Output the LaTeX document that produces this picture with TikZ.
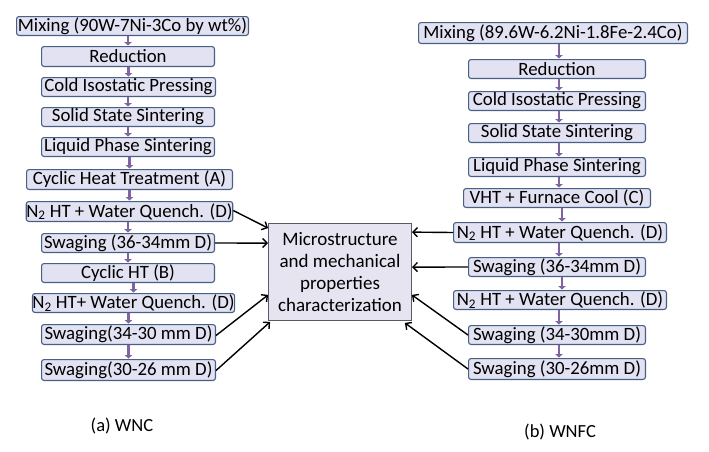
\documentclass[tikz,border=0pt]{standalone}
\usepackage{fontspec}
\setmainfont{Carlito}
\usetikzlibrary{arrows.meta,calc}
\definecolor{boxfill}{RGB}{226,226,242}
\definecolor{boxline}{RGB}{72,96,132}
\definecolor{cfill}{RGB}{230,228,240}
\definecolor{cline}{RGB}{90,90,100}
\definecolor{smallarr}{RGB}{128,100,162}
\tikzset{
  stepbox/.style={draw=boxline, fill=boxfill, line width=1.1pt, rounded corners=2.5pt,
    inner sep=0pt, font=\fontsize{18.8}{20}\selectfont, text=black, anchor=center},
  centerbox/.style={draw=cline, fill=cfill, line width=0.8pt, inner sep=0pt,
    align=center, font=\fontsize{19}{22}\selectfont},
  flowarr/.style={draw=smallarr, line width=2.8pt, -{Triangle[width=7.5pt,length=3.5pt]}},
  feedarr/.style={draw=black, line width=1.4pt, -{Straight Barb[length=4.5pt,width=9pt]}},
  caption/.style={font=\fontsize{18.5}{21}\selectfont}
}
% \bx{name}{x1}{x2}{y1}{y2}{text}
\newcommand{\bx}[6]{%
  \node[stepbox, minimum width={#3pt-#2pt-1.1pt}, minimum height={#5pt-#4pt-1.1pt}]
    (#1) at ({(#2+#3)/2},{(#4+#5)/2}) {#6};}
\begin{document}
\begin{tikzpicture}[x=1pt,y=-1pt]
\useasboundingbox (0,0) rectangle (709,451);
\fill[white] (0,0) rectangle (709,451);
% left column
\bx{L1}{16}{249}{16}{36}{Mixing (90W-7Ni-3Co by wt\%)}
\bx{L2}{41}{215}{46}{67}{Reduction}
\bx{L3}{41}{216}{77}{97}{Cold Isostatic Pressing}
\bx{L4}{41}{215}{107}{127}{Solid State Sintering}
\bx{L5}{41}{215}{137}{157}{Liquid Phase Sintering}
\bx{L6}{26}{233}{169}{190}{Cyclic Heat Treatment (A)}
\bx{L7}{26}{233}{201}{222}{N\textsubscript{2} HT + Water Quench. (D)}
\bx{L8}{41}{215}{233}{253}{Swaging (36-34mm D)}
\bx{L9}{41}{215}{263}{283}{Cyclic HT (B)}
\bx{L10}{32}{235}{293}{313}{N\textsubscript{2} HT+ Water Quench. (D)}
\bx{L11}{41}{216}{324}{345}{Swaging(34-30 mm D)}
\bx{L12}{41}{216}{359}{381}{Swaging(30-26 mm D)}
% right column
\bx{R1}{418}{688}{22}{44}{Mixing (89.6W-6.2Ni-1.8Fe-2.4Co)}
\bx{R2}{468}{646}{59}{79}{Reduction}
\bx{R3}{468}{646}{91}{111}{Cold Isostatic Pressing}
\bx{R4}{468}{646}{123}{143}{Solid State Sintering}
\bx{R5}{468}{646}{157}{177}{Liquid Phase Sintering}
\bx{R6}{463}{651}{188}{208}{VHT + Furnace Cool (C)}
\bx{R7}{453}{667}{222}{243}{N\textsubscript{2} HT + Water Quench. (D)}
\bx{R8}{468}{646}{257}{277}{Swaging (36-34mm D)}
\bx{R9}{453}{667}{290}{310}{N\textsubscript{2} HT + Water Quench. (D)}
\bx{R10}{468}{646}{325}{345}{Swaging (34-30mm D)}
\bx{R11}{468}{646}{358}{380}{Swaging (30-26mm D)}
% central box
\node[centerbox, minimum width=143pt, minimum height=97pt] (C) at (340,272)
  {Microstructure\\and mechanical\\properties\\characterization};
% flow arrows
\foreach \a/\b in {L1/L2,L2/L3,L3/L4,L4/L5,L5/L6,L6/L7,L7/L8,L8/L9,L9/L10,L10/L11,L11/L12}
  \draw[flowarr] ([yshift=0.5pt]\b.north |- \a.south) -- ([yshift=0.5pt]\b.north);
\foreach \a/\b in {R1/R2,R2/R3,R3/R4,R4/R5,R5/R6,R6/R7,R7/R8,R8/R9,R9/R10,R10/R11}
  \draw[flowarr] ([xshift=2pt,yshift=0.5pt]\b.north |- \a.south) -- ([xshift=2pt,yshift=0.5pt]\b.north);
% feed arrows
\draw[feedarr] ([yshift=1pt]L7.east) -- ([yshift=-5pt]C.north west);
\draw[feedarr] (L8.east) -- ([yshift=-20pt]C.north west);
\draw[feedarr] ([yshift=-1pt]L11.east) -- ([yshift=26pt]C.south west);
\draw[feedarr] ([yshift=-0.5pt]L12.east) -- ([xshift=2pt,yshift=-1pt]C.south west);
\draw[feedarr] (R7.west) -- ([yshift=-9pt]C.north east);
\draw[feedarr] (R8.west) -- ([yshift=-44pt]C.north east);
\draw[feedarr] (R10.west) -- ([yshift=26pt]C.south east);
\draw[feedarr] (R11.west) -- ([xshift=-7pt,yshift=-2pt]C.south east);
% captions
\node[caption] (capa) at (122,426) {(a) WNC};
\node[caption] (capb) at (560,432) {(b) WNFC};
\end{tikzpicture}
\end{document}
